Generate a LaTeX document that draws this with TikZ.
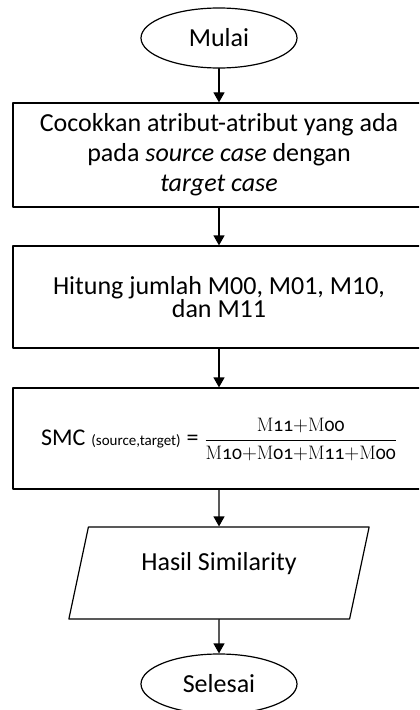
\documentclass[tikz,border=0pt]{standalone}
\usepackage{fontspec}
\newfontfamily\calibri{Carlito}
\usetikzlibrary{arrows.meta,shapes.geometric}
\newcommand{\Mnum}[1]{\mathrm{M}\mbox{\oldstylenums{#1}}}

\begin{document}
\begin{tikzpicture}[line cap=round,line join=round,>={Triangle[width=11bp,length=10bp]},x=1bp,y=-1bp,
  every node/.style={font=\calibri\fontsize{26bp}{30bp}\selectfont},
  terminal/.style={draw,ellipse,line width=1.2bp,minimum width=156bp,minimum height=60bp,inner sep=0pt},
  prosesbox/.style={draw,rectangle,line width=1.2bp,minimum width=412bp,inner sep=0pt,align=center},
  iobox/.style={draw,trapezium,trapezium left angle=73,trapezium right angle=107,trapezium stretches=true,
    line width=1.2bp,minimum width=301bp,minimum height=92bp,inner sep=0pt}]
\useasboundingbox (0,0) rectangle (419,710);
\clip (0,0) rectangle (419,710);
\node[terminal] (mulai) at (219,38) {Mulai};
\node[prosesbox,minimum height=104bp] (cocok) at (219,155) {Cocokkan atribut-atribut yang ada\\pada \textit{source case} dengan\\\textit{target case}};
\node[prosesbox,minimum height=102bp,font=\calibri\fontsize{26bp}{21bp}\selectfont] (hitung) at (219,297) {Hitung jumlah M00, M01, M10,\\dan M11};
\node[prosesbox,minimum height=101bp] (smc) at (219,438.5) {};
\node (rumus) at ([yshift=-1bp]smc.center) {{\fontsize{24bp}{28bp}\selectfont SMC} {\fontsize{15bp}{18bp}\selectfont (source,target)} {\fontsize{24bp}{28bp}\selectfont =} {\fontsize{19.5bp}{23bp}\selectfont$\displaystyle\frac{\Mnum{11}{+}\Mnum{00}}{\Mnum{10}{+}\Mnum{01}{+}\Mnum{11}{+}\Mnum{00}}$}};
\node[iobox,text height=16bp,text depth=22bp] (hasil) at (219,573) {Hasil Similarity};
\node[terminal] (selesai) at (219,684) {Selesai};
% connectors
\foreach \a/\b in {mulai/cocok,cocok/hitung,hitung/smc,smc/hasil,hasil/selesai}
  \draw[->,line width=1.2bp] (\a) -- (\b);
\end{tikzpicture}
\end{document}
